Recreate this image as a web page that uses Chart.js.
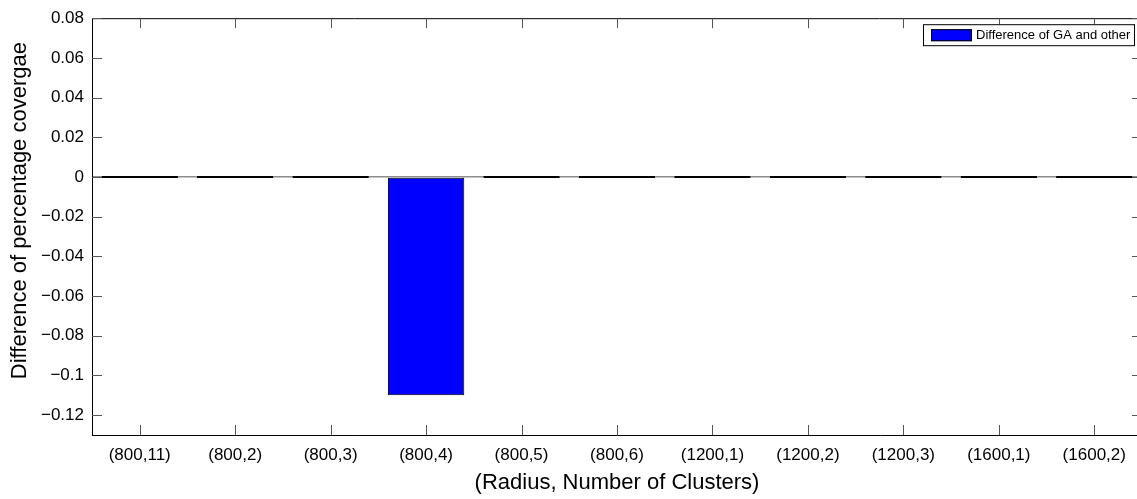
<!DOCTYPE html>
<html><head><meta charset="utf-8">
<script src="https://cdn.jsdelivr.net/npm/chart.js@4.4.1/dist/chart.umd.min.js"></script>
<style>html,body{margin:0;padding:0;background:#fff;overflow:hidden}
#wrap{width:1137px;height:499px;overflow:hidden;position:relative;background:#fff}
canvas{display:block}</style></head><body>
<div id="wrap"><canvas id="c" width="1142" height="499"></canvas></div>
<script>
const categories = ['(800,11)','(800,2)','(800,3)','(800,4)','(800,5)','(800,6)','(1200,1)','(1200,2)','(1200,3)','(1600,1)','(1600,2)'];
const differenceValues = [0, 0, 0, -0.11, 0, 0, 0, 0, 0, 0, 0];
const seriesLabel = 'Difference of GA and other';
const yTickValues = [-0.12, -0.1, -0.08, -0.06, -0.04, -0.02, 0, 0.02, 0.04, 0.06, 0.08];
const yMin = -0.13, yMax = 0.08;
const xTitle = '(Radius, Number of Clusters)';
const yTitle = 'Difference of percentage covergae';

const FONT = "'Liberation Sans', Arial, Helvetica, sans-serif";
const BAR_BLUE = '#0000ff';

function fmt(v) {
  return String(Number(v.toFixed(2))).replace('-', '\u2212');
}

const frameTicks = {
  id: 'frameTicks',
  afterDatasetsDraw(chart) {
    const {ctx, chartArea: a, scales} = chart;
    ctx.save();
    ctx.strokeStyle = '#000';
    ctx.lineWidth = 1;
    ctx.beginPath();
    ctx.moveTo(a.left, a.top + 0.5); ctx.lineTo(a.right, a.top + 0.5);
    ctx.moveTo(a.right - 0.5, a.top); ctx.lineTo(a.right - 0.5, a.bottom);
    ctx.stroke();
    ctx.strokeStyle = '#555';
    ctx.beginPath();
    const L = 10;
    scales.x.ticks.forEach((t, i) => {
      const x = Math.round(scales.x.getPixelForTick(i)) + 0.5;
      ctx.moveTo(x, a.bottom); ctx.lineTo(x, a.bottom - L);
      ctx.moveTo(x, a.top); ctx.lineTo(x, a.top + L);
    });
    scales.y.ticks.forEach((t, i) => {
      const y = Math.round(scales.y.getPixelForTick(i)) + 0.5;
      ctx.moveTo(a.left, y); ctx.lineTo(a.left + L, y);
      ctx.moveTo(a.right, y); ctx.lineTo(a.right - L, y);
    });
    ctx.stroke();
    ctx.restore();
  },
  afterDraw(chart) {
    const {ctx, chartArea: a} = chart;
    const ds = chart.data.datasets[0];
    ctx.save();
    // y-axis title (MATLAB places it slightly above the axis centre)
    ctx.save();
    ctx.translate(19.5, (a.top + a.bottom) / 2 - 16);
    ctx.rotate(-Math.PI / 2);
    ctx.fillStyle = '#000';
    ctx.font = '22px ' + FONT;
    ctx.textAlign = 'center';
    ctx.textBaseline = 'middle';
    ctx.fillText(yTitle, 0, 0);
    ctx.restore();
    // legend
    const bw = 212, bh = 22;
    const bx = a.right - 7 - bw, by = a.top + 6;
    ctx.fillStyle = '#fff';
    ctx.fillRect(bx, by, bw, bh);
    ctx.strokeStyle = '#000';
    ctx.lineWidth = 1;
    ctx.strokeRect(bx + 0.5, by + 0.5, bw - 1, bh - 1);
    ctx.fillStyle = BAR_BLUE;
    ctx.fillRect(bx + 8, by + 5, 41, 12);
    ctx.strokeRect(bx + 8.5, by + 5.5, 40, 11);
    ctx.fillStyle = '#000';
    ctx.font = '13px ' + FONT;
    ctx.textBaseline = 'middle';
    ctx.textAlign = 'left';
    ctx.fillText(ds.label, bx + 53, by + bh / 2 + 0.5);
    ctx.restore();
  }
};

new Chart(document.getElementById('c'), {
  type: 'bar',
  data: {
    labels: categories,
    datasets: [{
      label: seriesLabel,
      data: differenceValues,
      backgroundColor: (c) => (c.raw === 0 ? '#000' : BAR_BLUE),
      borderColor: '#000',
      borderWidth: 1,
      borderSkipped: false,
      minBarLength: 2,
      barPercentage: 0.8,
      categoryPercentage: 1.0
    }]
  },
  options: {
    responsive: false,
    animation: false,
    devicePixelRatio: 1,
    layout: {padding: {top: 17, left: 0, right: 0, bottom: 0}},
    plugins: {legend: {display: false}, tooltip: {enabled: false}},
    scales: {
      x: {
        type: 'category',
        offset: true,
        grid: {display: false, drawTicks: false},
        border: {display: true, color: '#000', width: 1},
        ticks: {color: '#000', font: {family: FONT, size: 17}, padding: 10, maxRotation: 0, autoSkip: false},
        title: {display: true, text: xTitle, color: '#000', font: {family: FONT, size: 22}, padding: {top: 0, bottom: 3}},
        afterFit(s) { s.height = 64; }
      },
      y: {
        min: yMin, max: yMax,
        afterBuildTicks(s) { s.ticks = yTickValues.map(v => ({value: v})); },
        grid: {
          drawTicks: false,
          color: (c) => (c.tick && Math.abs(c.tick.value) < 1e-9 ? '#8c8c8c' : 'rgba(0,0,0,0)'),
          lineWidth: 1.5
        },
        border: {display: true, color: '#000', width: 1},
        ticks: {color: '#000', font: {family: FONT, size: 17}, padding: 8, callback: (v) => fmt(v)},
        title: {display: false},
        afterFit(s) { s.width = 92; }
      }
    }
  },
  plugins: [frameTicks]
});
</script>
</body></html>
